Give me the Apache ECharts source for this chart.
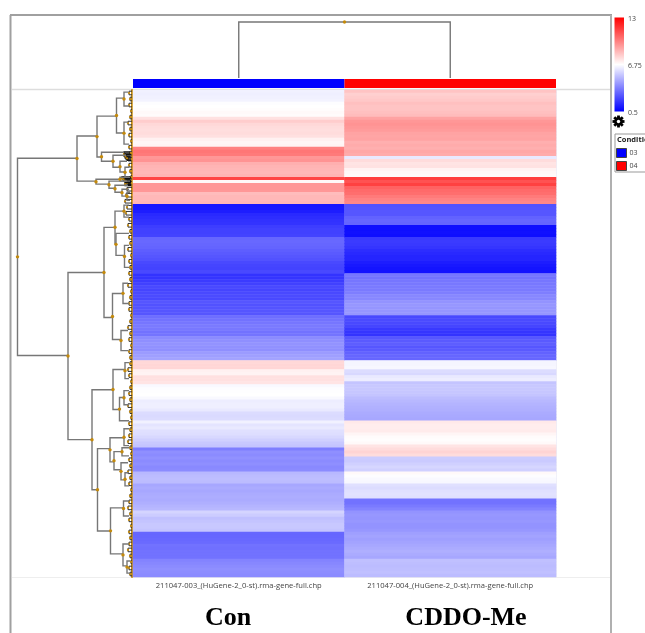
<!DOCTYPE html>
<html><head><meta charset="utf-8">
<style>html,body{margin:0;padding:0;background:#fff;overflow:hidden}#c{width:645px;height:633px}</style>
<script src="https://cdn.jsdelivr.net/npm/echarts@6/dist/echarts.min.js"></script>
</head><body><div id="c"></div>
<script>
const samples = ['211047-003_(HuGene-2_0-st).rma-gene-full.chp','211047-004_(HuGene-2_0-st).rma-gene-full.chp'];
const conditions = ['03','04'];
const groupLabels = ['Con','CDDO-Me'];
const scaleTicks = ['13','6.75','0.5'];
const conValues = [
6.4,6.35,6.4,6.45, 6.7,6.75,6.8, 6.9,6.85, 7.49,7.98, 7.7,7.6,7.55,7.6,7.5, 7.1,6.95,7.0,
9.8,10.1,10.0, 9.3,9.4, 8.7,8.6,8.55,8.5,8.6, 11.3, 6.9, 9.3,9.3,9.3,8.4,8.5,8.5,8.55,
1.05,1.1,1.2, 1.5,1.6,1.7,1.75, 2.0,2.1,2.1,2.15, 3.0,3.05,3.0,2.95, 2.8,2.7,2.6,2.5, 2.3,2.2,2.15,2.3,
1.75,1.8,1.95, 2.1,2.3,2.2,2.3,2.35,2.3, 2.6,2.5,2.55,2.6,2.6, 3.2,3.3,3.4,3.5,3.45,3.3,3.35,
3.9,4.0,4.1,4.05,4.0, 4.3,4.4,4.5,
7.7,7.75,7.75, 7.1,7.05, 7.5,7.5,7.4, 6.6, 6.7,6.72,6.75,6.6, 6.3,6.35,6.35,6.2, 5.9,5.85,5.9, 6.4,
6.1,6.2,6.0,5.95, 5.8,5.6,5.4,5.3, 3.6,4.0,3.9,4.05,3.9,4.0,3.85,3.9, 5.0,5.1,5.15,5.1,
4.6,4.7,4.6,4.7,4.75,4.7, 4.8,4.9,5.0, 5.7,5.5,5.2,5.3,5.4,5.4,5.3, 3.0,3.0,3.05,3.1,
3.3,3.25,3.3,3.3,3.3, 3.7,3.8,3.9,4.0,3.95,3.9];
const cddoValues = [
8.2,7.9,8.0, 8.1,8.3,8.2,8.2,8.3,8.4, 9.0,9.3,9.4,9.3,9.2, 9.0,8.95,9.0, 8.7,8.8,8.7,8.9,8.8,
6.2,7.6,7.4,7.45,7.05,6.95,6.9, 11.5,11.0,11.4, 10.6,10.4,10.3, 10.0,9.8,9.7,
2.5,2.55,2.6,2.6, 2.9,3.0,2.95, 0.85,0.85,0.9,0.85, 1.9,1.95,1.9,1.8, 1.6,1.5,1.4,1.4, 1.2,1.1,1.0,0.95,
3.4,3.3,3.4,3.45,3.5,3.5, 3.6,3.8,3.8, 4.1,4.2,4.15,4.2,4.2, 2.3,2.35,2.3,2.2, 1.9,1.8,1.75,
2.6,2.7,2.8,2.6,2.7,2.9,3.0,3.0,
6.5,6.5,6.55, 5.9,5.8, 6.2,6.3, 5.3,5.4,5.4,5.35,5.3, 5.1,5.0,4.9,4.85,4.8, 4.7,4.65,4.6,
7.3,7.2,7.2,7.25, 7.0,6.85,6.8,6.9, 7.4,7.6,7.8,7.6, 5.5,5.45,5.6,5.75,5.6, 6.9,6.7,6.6,6.55,
6.0,5.9,6.0,6.05,6.0, 3.3,3.3,3.5,3.7, 4.1,4.2,4.15,4.2,4.1,4.1,4.2, 4.4,4.5,4.4,4.5,
4.6,4.7,4.8,4.7,4.6, 5.2,5.15,5.1,5.15,5.2,5.1];
// [merge height, top row, bottom row, top child height, bottom child height]
const rowMerges = [
[114.5,22.7,88.3,55,64],
[55,15.3,30.3,35,36],[35,8.7,22.3,15.5,30.5],[15.5,2.7,14.3,8,8],[8,0.7,5.3,4,3],[8,10.7,18,4,3],
[30.5,20.7,23.7,8,19],[19,21.7,25.7,6,12],[12,23.7,27.3,5,7],[7,25.7,29,3,3],
[36,29.7,31.3,12,23],[23,30.3,32.7,5,17],[17,31.7,34,4,10],[10,33,35.3,3,5],[5,34,36.7,2,2],[12,29,30.3,2,2],
[64,60.7,116.3,28,40],[28,45.7,75.7,17,19.5],[17,40.3,51,8,16],[8,38.3,42.3,3,3],[16,47.7,55,3,7.5],[7.5,51.7,59,3,3],
[19.5,67.7,83,9,11],[9,64.3,71,4,3],[11,80,86.7,4,4],
[40,99.7,133,19,34.5],[19,93,106.3,7,12.5],[7,90.7,96,3,3],[12.5,102.3,110,8,3],[8,100,104.7,3,3],
[34.5,119.3,146.7,22,21.5],[22,115.7,123.7,8,18],[8,112.7,118.3,3,3],[18,120.3,126.3,10,11],[10,119,121.7,3,3],
[11,124,129.7,4,7],[7,127.3,131.7,3,3],[21.5,139,154.3,8.5,9],[8.5,136.7,141.7,3,3],[9,151,158.3,3,5],[5,156.7,160.7,2,2]];
// merges packed at the leaves, dark clumps near rows 21 and 30
const clumpMerges = [
[8,20.6,22,2,2],[7,21,22.6,2,1],[6,21.4,23,1,1],[5,22,23.4,1,1],
[10,28.8,29.4,2,2],[9,29,29.9,1,2],[8,29.3,30.2,1,1],[7,29.6,30.6,1,1],[6,30,31,1,1],[5,30.4,31.4,1,1],[7,30.8,31.8,1,1]];
const leafHeights = [3,2,3,1,2,4,2,3,1,3,2,4,3,2,1,3,5,6,7,5,6,3,4,2,3,2,4,1,3,2,
3,2,4,1,2,3,3,1,2,4,2,3,1,3,2,2,4,3,1,2,3,2,4,2,1,3,2,3,4,2,
1,3,2,4,2,3,1,2,3,4,2,3,1,3,2,3,4,2,1,3,2];
const columnMerge = [[0.5,1.5,1]];

const cells = [];
conValues.forEach((v,i)=>cells.push([0,i,v]));
cddoValues.forEach((v,i)=>cells.push([1,i,v]));
const rowNames = conValues.map((_,i)=>String(i));
const leafMerges = leafHeights.map((h,i)=>[h,i*2+0.4,i*2+1.6,0,0]);
const dotColor = '#c48a0c', lineColor = '#777777', leafColor = '#333333';

function makeRowRender(stroke,width,r){
  return function(params, api){
    const h=api.value(0),t=api.value(1),b=api.value(2),ht=api.value(3),hb=api.value(4);
    const p1=api.coord([ht,t]),p2=api.coord([h,t]),p3=api.coord([h,b]),p4=api.coord([hb,b]);
    const m=api.coord([h,(t+b)/2]);
    return {type:'group',children:[
      {type:'polyline',shape:{points:[p1,p2,p3,p4]},style:{fill:null,stroke:stroke,lineWidth:width}},
      {type:'circle',shape:{cx:m[0],cy:m[1],r:r},style:{fill:dotColor}}
    ]};
  };
}
function renderColumnMerge(params, api){
  const a=api.value(0),b=api.value(1),h=api.value(2);
  const p1=api.coord([a,0]),p2=api.coord([a,h]),p3=api.coord([b,h]),p4=api.coord([b,0]);
  const m=api.coord([(a+b)/2,h]);
  return {type:'group',children:[
    {type:'polyline',shape:{points:[p1,p2,p3,p4]},style:{fill:null,stroke:lineColor,lineWidth:1.4}},
    {type:'circle',shape:{cx:m[0],cy:m[1],r:1.7},style:{fill:dotColor}}
  ]};
}
function vline(x,y1,y2,c,w){return {type:'line',silent:true,shape:{x1:x,y1:y1,x2:x,y2:y2},style:{stroke:c,lineWidth:w||1}};}
function hline(y,x1,x2,c,w){return {type:'line',silent:true,shape:{x1:x1,y1:y,x2:x2,y2:y},style:{stroke:c,lineWidth:w||1}};}
function txt(x,y,t,o){return {type:'text',silent:true,x:x,y:y,style:Object.assign({text:t,fill:'#444',font:'7px "Open Sans"'},o||{})};}
function gear(cx,cy){
  const teeth=[0,1,2,3,4,5,6,7].map(k=>({type:'rect',silent:true,x:cx,y:cy,rotation:k*Math.PI/4,
    shape:{x:-1.4,y:-6,width:2.8,height:3},style:{fill:'#000'}}));
  return teeth.concat([
    {type:'circle',silent:true,shape:{cx:cx,cy:cy,r:4.4},style:{fill:'#000'}},
    {type:'circle',silent:true,shape:{cx:cx,cy:cy,r:1.7},style:{fill:'#fff'}}]);
}

const chart = echarts.init(document.getElementById('c'),null,{renderer:'canvas'});
chart.setOption({
  animation:false,
  backgroundColor:'#fff',
  grid:[
    {left:133,top:90,width:423,height:487,show:true,borderColor:'#dcdcf0',borderWidth:1,backgroundColor:'transparent'},
    {left:12,top:90,width:120,height:487},
    {left:133,top:22,width:423,height:56},
    {left:133,top:79,width:423,height:9}
  ],
  xAxis:[
    {gridIndex:0,type:'category',data:samples,position:'bottom',axisLine:{show:false},axisTick:{show:false},
     axisLabel:{fontSize:7.6,color:'#444',fontFamily:'Open Sans',margin:5,interval:0},splitLine:{show:false}},
    {gridIndex:1,type:'value',min:0,max:120,inverse:true,show:false},
    {gridIndex:2,type:'value',min:0,max:2,show:false},
    {gridIndex:3,type:'category',data:samples,show:false}
  ],
  yAxis:[
    {gridIndex:0,type:'category',data:rowNames,inverse:true,show:false},
    {gridIndex:1,type:'value',min:0,max:162,inverse:true,position:'right',
     axisLine:{show:true,lineStyle:{color:dotColor,width:2}},axisTick:{show:false},axisLabel:{show:false},splitLine:{show:false}},
    {gridIndex:2,type:'value',min:0,max:1,show:false},
    {gridIndex:3,type:'value',min:0,max:1,show:false}
  ],
  visualMap:{type:'continuous',show:false,seriesIndex:0,min:0.5,max:13,
    inRange:{color:['#0000ff','#ffffff','#ff0000']}},
  legend:{data:conditions,orient:'vertical',left:616,top:148,itemWidth:10,itemHeight:9,itemGap:3,padding:0,icon:'rect',
    textStyle:{fontSize:7,color:'#444',fontFamily:'Open Sans',padding:[0,0,0,-2]},selectedMode:false,
    itemStyle:{borderColor:'#444',borderWidth:1}},
  series:[
    {type:'heatmap',xAxisIndex:0,yAxisIndex:0,data:cells,progressive:0,itemStyle:{borderWidth:0}},
    {type:'custom',xAxisIndex:1,yAxisIndex:1,data:leafMerges,renderItem:makeRowRender(leafColor,1,1.1),silent:true,clip:false,encode:{x:0,y:1}},
    {type:'custom',xAxisIndex:1,yAxisIndex:1,data:clumpMerges,renderItem:makeRowRender('#111111',1.2,1.1),silent:true,clip:false,encode:{x:0,y:1}},
    {type:'custom',xAxisIndex:1,yAxisIndex:1,data:rowMerges,renderItem:makeRowRender(lineColor,1.4,1.7),silent:true,clip:false,encode:{x:0,y:1}},
    {type:'custom',xAxisIndex:2,yAxisIndex:2,data:columnMerge,renderItem:renderColumnMerge,silent:true,clip:false,encode:{x:0,y:2}},
    {name:conditions[0],type:'bar',xAxisIndex:3,yAxisIndex:3,data:[1,null],barWidth:'100%',barGap:'-100%',itemStyle:{color:'#0000ff'},silent:true},
    {name:conditions[1],type:'bar',xAxisIndex:3,yAxisIndex:3,data:[null,1],barWidth:'100%',barGap:'-100%',itemStyle:{color:'#ff0000'},silent:true}
  ],
  graphic:[
    vline(10.5,15,633,'#a0a0a0',2),hline(15,10,612,'#a0a0a0',2),vline(611,15,633,'#b0b0b0',2),
    hline(89.5,12,610,'#dddddd',1.5),hline(577.5,12,610,'#eeeeee'),
    {type:'rect',silent:true,shape:{x:614.5,y:17.5,width:9.5,height:94},
     style:{fill:new echarts.graphic.LinearGradient(0,0,0,1,[
       {offset:0,color:'#ff0000'},{offset:0.5,color:'#ffffff'},{offset:1,color:'#0000ff'}])}},
    txt(628,15,scaleTicks[0]),txt(628,62.5,scaleTicks[1]),txt(628,109.5,scaleTicks[2]),
    ...gear(618.5,121.5),
    {type:'rect',silent:true,shape:{x:615,y:134,width:40,height:38},style:{fill:'none',stroke:'#999',lineWidth:1}},
    txt(617,136,'Condition',{font:'bold 7.5px "Open Sans"',fill:'#222'}),
    {type:'text',silent:true,x:228,y:605,style:{text:groupLabels[0],align:'center',fill:'#000',font:'bold 26px "Liberation Serif"'}},
    {type:'text',silent:true,x:466,y:605,style:{text:groupLabels[1],align:'center',fill:'#000',font:'bold 26px "Liberation Serif"'}}
  ]
});
</script></body></html>
